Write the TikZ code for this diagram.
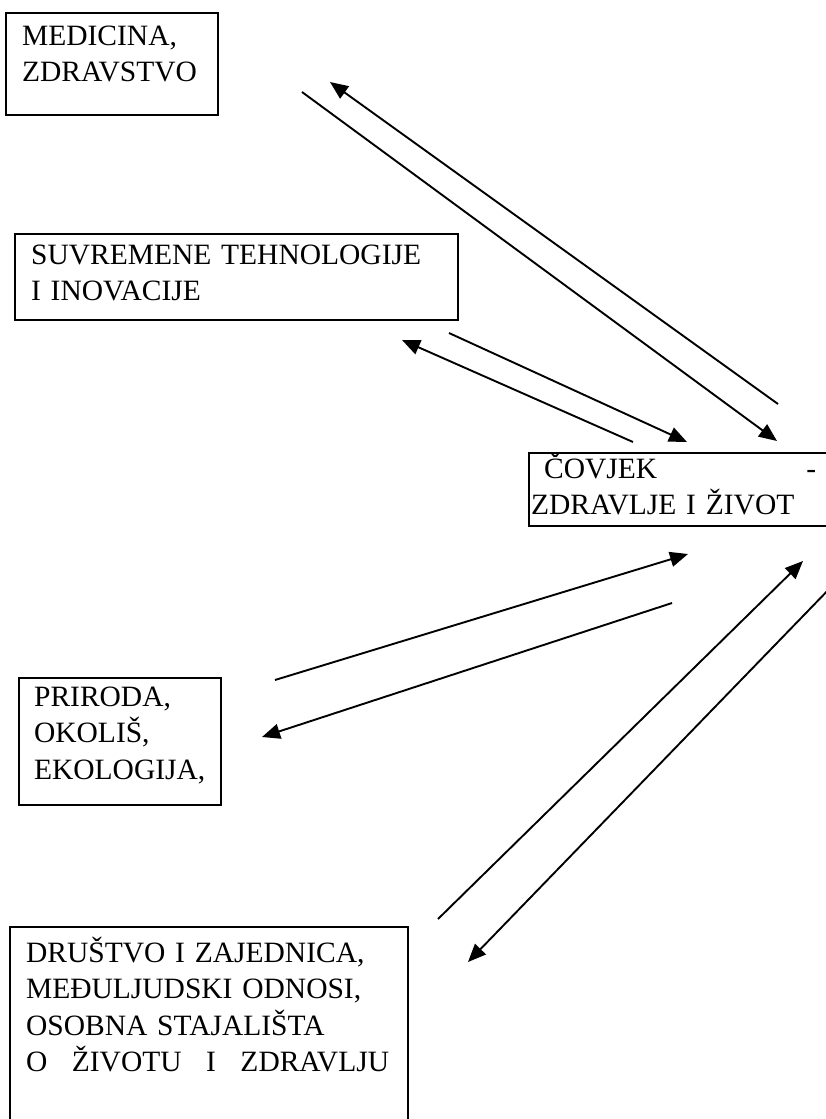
\documentclass[tikz,border=0pt]{standalone}
\usepackage{fontspec}
\setmainfont{Liberation Serif}
\usetikzlibrary{
  arrows.meta,
  positioning
}
\definecolor{mapLine}{RGB}{0,0,0}
\newcommand{\topicfont}{\fontsize{29.5}{36.5}\selectfont}
\tikzset{
  topicbox/.style={
    draw=mapLine,
    line width=2.2pt,
    anchor=north west,
    align=left,
    inner xsep=16pt,
    inner ysep=0pt,
    text height=26pt,
    font=\topicfont
  },
  flowarrow/.style={
    -{Triangle[length=18pt,width=15pt]},
    line width=1.9pt,
    draw=mapLine
  }
}

\begin{document}
\begin{tikzpicture}[x=1pt, y=-1pt]
  \useasboundingbox (0,0) rectangle (825,1119);

  \node[topicbox, text width=180pt, text height=32pt, text depth=70pt] (medicina) at (5,12)
    {MEDICINA,\\ZDRAVSTVO};
  \node[topicbox, text width=411pt, text height=30pt, text depth=56pt] (tehnologije) at (14,233)
    {SUVREMENE TEHNOLOGIJE\\I INOVACIJE};
  \node[topicbox, inner xsep=2pt, text width=308pt, text height=25pt, text depth=48pt] (covjek) at (528,452)
    {\hbox to 285pt{\hspace{13pt}ČOVJEK\hfill-}\\ZDRAVLJE I ŽIVOT};
  \node[topicbox, inner xsep=15pt, text width=172pt, text height=28pt, text depth=99pt] (priroda) at (18,677)
    {PRIRODA,\\OKOLIŠ,\\EKOLOGIJA,};
  \node[topicbox, text width=366pt, text height=35pt, text depth=200pt] (drustvo) at (9,926)
    {DRUŠTVO I ZAJEDNICA,\\MEĐULJUDSKI ODNOSI,\\OSOBNA STAJALIŠTA\\
     \hbox to 363pt{O\hfill ŽIVOTU\hfill I\hfill ZDRAVLJU}};

  % free ends of the paired arrows
  \coordinate (medicinaOut) at (302,92);
  \coordinate (medicinaIn)  at (330,82);
  \coordinate (covjekMedIn)  at (777,441);
  \coordinate (covjekMedOut) at (778,404);
  \coordinate (tehnoOut) at (449,333);
  \coordinate (tehnoIn)  at (402,340);
  \coordinate (covjekTehIn)  at (687,442);
  \coordinate (covjekTehOut) at (633,442);
  \coordinate (prirodaOut) at (275,680);
  \coordinate (prirodaIn)  at (262,737);
  \coordinate (covjekPriIn)  at (688,554);
  \coordinate (covjekPriOut) at (672,603);
  \coordinate (drustvoOut) at (438,919);
  \coordinate (drustvoIn)  at (468,962);
  \coordinate (covjekDruIn)  at (803,561);
  \coordinate (covjekDruOut) at (835,583);

  \draw[flowarrow] (medicinaOut) -- (covjekMedIn);
  \draw[flowarrow] (covjekMedOut) -- (medicinaIn);
  \draw[flowarrow] (tehnoOut) -- (covjekTehIn);
  \draw[flowarrow] (covjekTehOut) -- (tehnoIn);
  \draw[flowarrow] (prirodaOut) -- (covjekPriIn);
  \draw[flowarrow] (covjekPriOut) -- (prirodaIn);
  \draw[flowarrow] (drustvoOut) -- (covjekDruIn);
  \draw[flowarrow] (covjekDruOut) -- (drustvoIn);
\end{tikzpicture}
\end{document}
